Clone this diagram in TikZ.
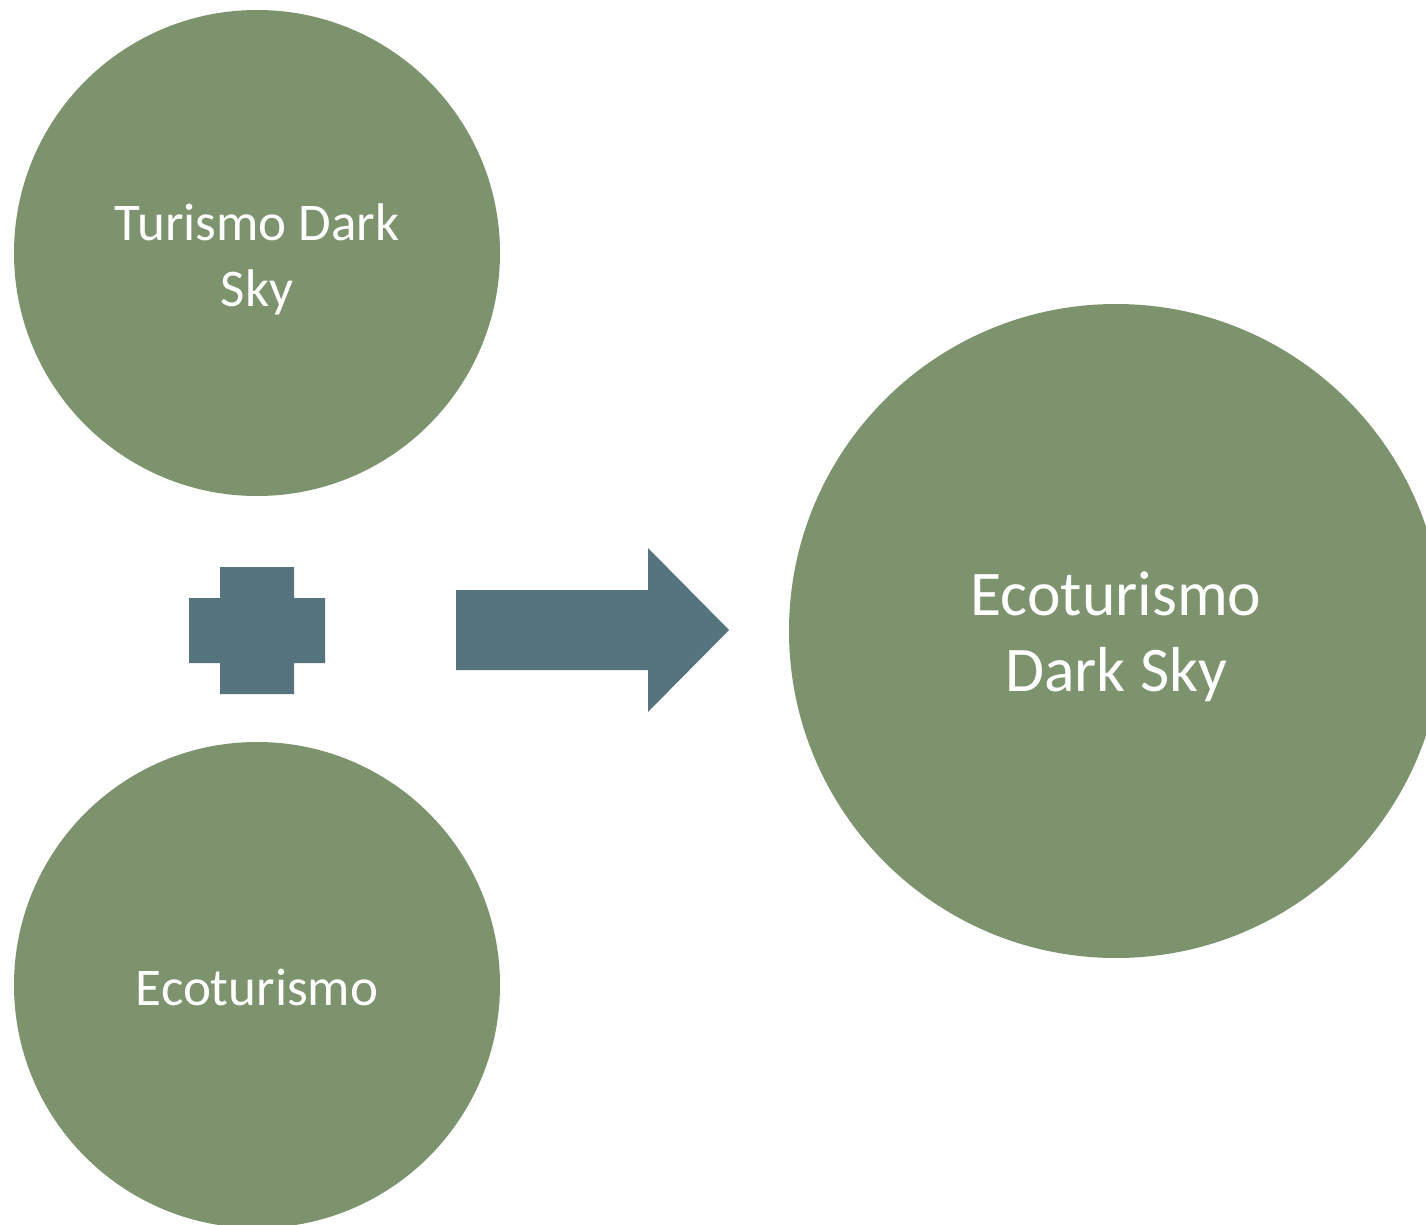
\documentclass[tikz,border=0pt]{standalone}
\usepackage{fontspec}
\setmainfont{Carlito}
\definecolor{circgreen}{RGB}{124,147,109}
\definecolor{shapeblue}{RGB}{86,116,125}
\tikzset{
  circ/.style={circle, fill=circgreen, draw=none, inner sep=0pt},
  label text/.style={text=white, align=center, inner sep=0pt},
  blueshape/.style={fill=shapeblue, draw=none},
  smalltext/.style={font=\fontsize{26.5}{33}\selectfont},
  bigtext/.style={font=\fontsize{31.8}{38}\selectfont}
}
\begin{document}
\begin{tikzpicture}[x=0.5pt,y=-0.5pt]
\useasboundingbox (0,0) rectangle (1426,1225);
\clip (0,0) rectangle (1426,1225);
\fill[white] (0,0) rectangle (1426,1225);
% circles
\node[circ, minimum size=243pt] (top) at (257,253) {};
\node[circ, minimum size=243pt] (bottom) at (257,985) {};
\node[circ, minimum size=327pt] (result) at (1116,631) {};
% texts
\node[label text, smalltext] (toptext) at ([yshift=-3pt]top.center) {Turismo Dark\\Sky};
\node[label text, smalltext] (bottomtext) at ([yshift=-1pt]bottom.center) {Ecoturismo};
\node[label text, bigtext] (resulttext) at ([yshift=-3pt]result.center) {Ecoturismo\\Dark Sky};
% plus sign
\fill[blueshape] (220,567) -- (294,567) -- (294,598) -- (325,598) -- (325,663) -- (294,663) -- (294,694) -- (220,694) -- (220,663) -- (189,663) -- (189,598) -- (220,598) -- cycle;
% arrow
\fill[blueshape] (456,590) -- (648,590) -- (648,548) -- (729,630) -- (648,712) -- (648,670) -- (456,670) -- cycle;
\end{tikzpicture}
\end{document}
